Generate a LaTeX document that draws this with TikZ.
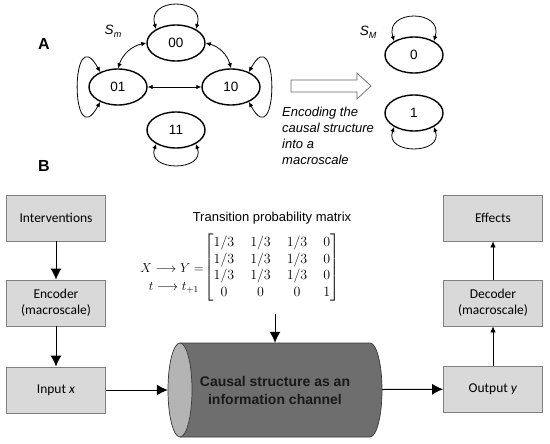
\RequirePackage{fix-cm}
\documentclass[tikz,border=0pt]{standalone}
\usepackage{amsmath,amssymb,amsfonts}
\usepackage{fontspec}
\setmainfont{Liberation Sans}
\newfontfamily\boxfont{Carlito}
\usepackage{tikz}
\usetikzlibrary{arrows.meta}
\usetikzlibrary{shapes}
\usetikzlibrary{positioning}
\definecolor{boxfill}{HTML}{D9D9D9}
\definecolor{boxedge}{HTML}{808080}
\definecolor{chanbody}{HTML}{6E6E6E}
\definecolor{chanend}{HTML}{B4B4B4}
\definecolor{chanedge}{HTML}{3A3A3A}
\tikzset{
    state/.style={draw=black, ellipse, line width=1.4pt, minimum width=58pt,
        minimum height=36pt, inner sep=0pt, font=\fontsize{13.5}{16}\selectfont},
    twoway/.style={draw=black, line width=0.8pt,
        {Latex[length=5pt,width=4.5pt]}-{Latex[length=5pt,width=4.5pt]}},
    stepbox/.style={draw=boxedge, fill=boxfill, line width=0.8pt, minimum width=99pt,
        minimum height=46pt, align=center, font=\boxfont\fontsize{13.5}{16}\selectfont},
    bigline/.style={draw=black, line width=1pt, -{Latex[length=11pt,width=11pt]}},
    thinline/.style={draw=black, line width=0.8pt, -{Latex[length=6pt,width=5.5pt]}},
    panel/.style={font=\bfseries\fontsize{16}{18}\selectfont},
}

\begin{document}
\begin{tikzpicture}[x=1pt, y=-1pt]
	\useasboundingbox (0,0) rectangle (550,444);
	% A: microscale and macroscale
	\node[panel] (labA) at (44,44) {A};
	\node[panel] (labB) at (44,166) {B};
	\node[font=\fontsize{13.5}{16}\selectfont] (sm) at (113,31) {\itshape S\raisebox{-0.4ex}{\fontsize{9}{9}\selectfont m}};
	\node[state] (s00) at (176,43) {00};
	\node[state] (s01) at (118,87) {01};
	\node[state] (s10) at (231,87) {10};
	\node[state] (s11) at (176,130) {11};
	\draw[twoway] (s00.145) .. controls +(-10,-32) and +(10,-32) .. (s00.35);
	\draw[twoway] (s01.140) .. controls +(-30,-55) and +(-30,55) .. (s01.220);
	\draw[twoway] (s10.40) .. controls +(30,-55) and +(30,55) .. (s10.320);
	\draw[twoway] (s11.215) .. controls +(-10,28) and +(10,28) .. (s11.325);
	\draw[twoway] (s00.west) to[bend right=30] (s01.north);
	\draw[twoway] (s00.east) to[bend left=30] (s10.north);
	\draw[twoway] (s01) -- (s10);
	\draw[draw=gray!80!black, fill=white, line width=0.7pt] (291,80) -- (357,80) -- (357,73) -- (371,86)
		-- (357,99) -- (357,92) -- (291,92) -- cycle;
	\node[anchor=north west, inner sep=0pt, align=left, font=\itshape\fontsize{13}{16}\selectfont] (enc) at (282,107)
		{Encoding the\\causal structure\\into a\\macroscale};
	\node[font=\fontsize{13.5}{16}\selectfont] (sM) at (368,32) {\itshape S\raisebox{-0.4ex}{\fontsize{9}{9}\selectfont M}};
	\node[state] (m0) at (414,55) {0};
	\node[state] (m1) at (414,113) {1};
	\draw[twoway] (m0.145) .. controls +(-10,-32) and +(10,-32) .. (m0.35);
	\draw[twoway] (m1.215) .. controls +(-10,28) and +(10,28) .. (m1.325);
	% B: the channel
	\node[stepbox] (interv) at (56,218) {Interventions};
	\node[stepbox] (encod) at (56,303) {Encoder\\(macroscale)};
	\node[stepbox] (inx) at (56,390) {Input \textit{x}};
	\node[stepbox] (effects) at (493,218) {Effects};
	\node[stepbox] (decod) at (493,303) {Decoder\\(macroscale)};
	\node[stepbox] (outy) at (493,389) {Output \textit{y}};
	\fill[chanbody] (180,343) -- (370,343) arc[start angle=-90, end angle=90, x radius=12, y radius=47]
		-- (180,437) arc[start angle=90, end angle=270, x radius=12, y radius=47] -- cycle;
	\draw[chanedge, line width=0.7pt] (180,343) -- (370,343) arc[start angle=-90, end angle=90, x radius=12, y radius=47]
		-- (180,437);
	\filldraw[fill=chanend, draw=chanedge, line width=0.7pt] (180,390) ellipse[x radius=12, y radius=47];
	\node[font=\bfseries\fontsize{14}{18}\selectfont, text=black!90, align=center, minimum width=214pt,
		minimum height=94pt, inner sep=0pt] (chan) at (275,390) {Causal structure as an\\information channel};
	\node[font=\fontsize{13}{16}\selectfont] (tpm) at (272,218) {Transition probability matrix};
	\node[inner sep=0pt, font=\fontsize{14}{16.5}\selectfont] (mat) at (272,268)
		{\setlength\arraycolsep{8pt}$\begin{bmatrix} 1/3 & 1/3 & 1/3 & 0\\ 1/3 & 1/3 & 1/3 & 0\\ 1/3 & 1/3 & 1/3 & 0\\ 0 & 0 & 0 & 1 \end{bmatrix}$};
	\node[anchor=east, inner sep=0pt, font=\fontsize{13}{16}\selectfont] (maplab) at (204,268) {$X \longrightarrow Y =$};
	\node[anchor=east, inner sep=0pt, font=\fontsize{13}{16}\selectfont] (steplab) at (199,288) {$t \longrightarrow t_{+1}$};
	\draw[bigline] (interv) -- (encod);
	\draw[bigline] (encod) -- (inx);
	\draw[bigline] (inx) -- (chan);
	\draw[bigline] (chan) -- (outy);
	\draw[bigline] ([yshift=-12pt]mat.south -| chan.north) -- (chan.north);
	\draw[thinline] (outy) -- (decod);
	\draw[thinline] (decod) -- (effects);
\end{tikzpicture}
\end{document}
